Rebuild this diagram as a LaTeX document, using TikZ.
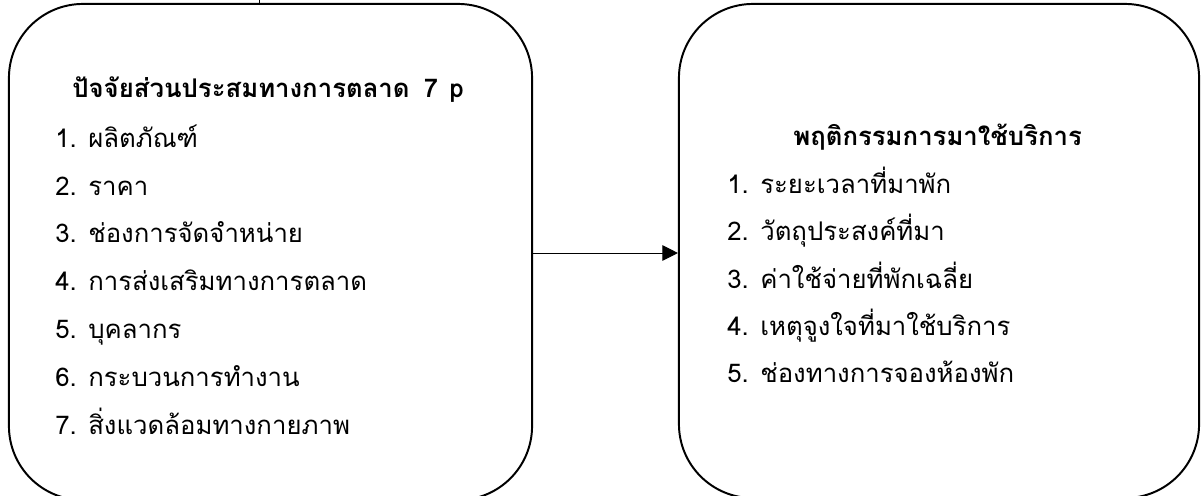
\documentclass[tikz,border=0pt]{standalone}
\usepackage{fontspec}
\setmainfont[Script=Thai]{Loma}
\usetikzlibrary{arrows.meta}
\tikzset{
  bigbox/.style={draw=black, line width=1.4pt, rounded corners=1.85cm, inner sep=0pt},
  ttl/.style={anchor=base west, inner sep=0pt, font=\fontsize{18.3}{22}\selectfont\bfseries},
  item/.style={anchor=base west, inner sep=0pt, font=\fontsize{18.3}{22}\selectfont},
  conn/.style={line width=0.7pt, -{Triangle[length=11pt,width=11pt]}}
}
\begin{document}
\begin{tikzpicture}[x=0.025cm,y=-0.025cm]
\useasboundingbox (0,0) rectangle (1202,495);
\clip (0,0) rectangle (1202,495);
\node[bigbox, minimum width=13.075cm, minimum height=12.4cm] (L) at (270.5,252) {};
\node[bigbox, minimum width=13.0cm, minimum height=12.35cm] (R) at (939,251) {};
\coordinate (top) at (259,-10);
\draw[line width=0.7pt] (top) -- (L.north -| top);
\node[ttl] (lt) at (72,97) {ปัจจัยส่วนประสมทางการตลาด\hspace{0.55em}7\hspace{0.45em}p};
\node[item] (l1) at (55,147) {1. ผลิตภัณฑ์};
\node[item] (l2) at (55,195) {2. ราคา};
\node[item] (l3) at (55,242) {3. ช่องการจัดจำหน่าย};
\node[item] (l4) at (55,290) {4. การส่งเสริมทางการตลาด};
\node[item] (l5) at (55,338) {5. บุคลากร};
\node[item] (l6) at (55,386) {6. กระบวนการทำงาน};
\node[item] (l7) at (55,434) {7. สิ่งแวดล้อมทางกายภาพ};
\node[ttl] (rt) at (793,145) {พฤติกรรมการมาใช้บริการ};
\node[item] (r1) at (727,193) {1. ระยะเวลาที่มาพัก};
\node[item] (r2) at (727,240) {2. วัตถุประสงค์ที่มา};
\node[item] (r3) at (727,288) {3. ค่าใช้จ่ายที่พักเฉลี่ย};
\node[item] (r4) at (727,335) {4. เหตุจูงใจที่มาใช้บริการ};
\node[item] (r5) at (727,382) {5. ช่องทางการจองห้องพัก};
\draw[conn] (L.east |- 0,253) -- (R.west |- 0,253);
\end{tikzpicture}
\end{document}
